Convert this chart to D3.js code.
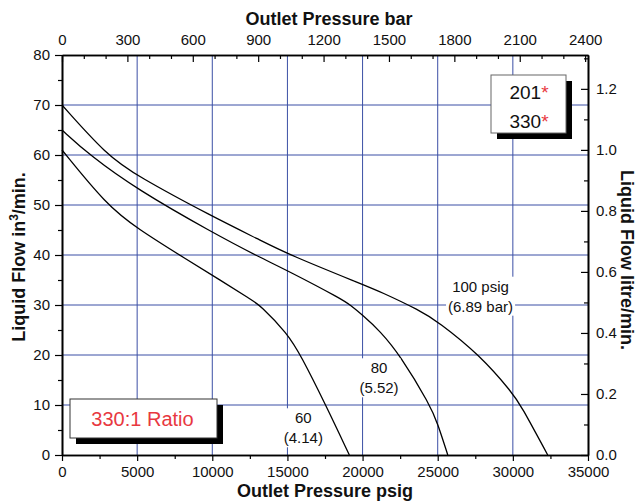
<!DOCTYPE html>
<html>
<head>
<meta charset="utf-8">
<script src="https://cdn.jsdelivr.net/npm/d3@7"></script>
<style>
html,body{margin:0;padding:0;background:#fff;}
svg{display:block;font-family:"Liberation Sans",Arial,sans-serif;}
</style>
</head>
<body>
<svg id="chart" width="636" height="501"></svg>
<script>
// ---- data (psig, in^3/min) ----
const psig100 = [0, 2970, 5000, 10000, 13175, 15000, 20000, 21160, 23820, 25000, 27800, 30000, 30520, 32320];
const flow100 = [70, 60, 55.8, 47.7, 43.0, 40.2, 34.1, 32.7, 28.9, 26.7, 20, 12.3, 10, 0];
const psig80 = [0, 1820, 5000, 10000, 13175, 15000, 18720, 19164, 20000, 21160, 22490, 24490, 25000, 25670];
const flow80 = [65, 60, 53.1, 44.5, 39.5, 36.9, 31, 30, 28.0, 24.8, 20, 10, 6.3, 0];
const psig60 = [0, 2970, 5000, 8297, 10513, 12620, 13175, 15000, 15880, 17550, 19120];
const flow60 = [61, 50, 45.3, 39.1, 35, 31, 30, 24.3, 20, 10, 0];

const psigTicks = [0, 5000, 10000, 15000, 20000, 25000, 30000, 35000];
const barTicks = [0, 300, 600, 900, 1200, 1500, 1800, 2100, 2400];
const flowTicks = [0, 10, 20, 30, 40, 50, 60, 70, 80];
const litreTicks = [0, 0.2, 0.4, 0.6, 0.8, 1.0, 1.2];
const gridPsig = [5000, 10000, 15000, 20000, 25000, 30000];
const gridFlow = [10, 20, 30, 40, 50, 60, 70];

const curveLabels = [
  {lines: ["100 psig", "(6.89 bar)"], psig: 27850, flow: 30.66},
  {lines: ["80", "(5.52)"], psig: 21094, flow: 14.34},
  {lines: ["60", "(4.14)"], psig: 16057, flow: 4.34}
];
const modelLines = ["201", "330"];
const ratioText = "330:1 Ratio";

// ---- layout ----
const L = 62, R = 588, T = 55, B = 455;
const PSI_PER_BAR = 14.5038;
const L_PER_IN3 = 0.016387064;

const svg = d3.select("#chart");
const x = d3.scaleLinear().domain([0, 35000]).range([L, R]);
const xBar = d3.scaleLinear().domain([0, 35000 / PSI_PER_BAR]).range([L, R]);
const y = d3.scaleLinear().domain([0, 80]).range([B, T]);
const yL = d3.scaleLinear().domain([0, 80 * L_PER_IN3]).range([B, T]);

const gridColor = "#3b4fa5";
const red = "#e8383f";

// grid
const grid = svg.append("g");
grid.selectAll("line.v").data(gridPsig).join("line")
  .attr("x1", d => x(d)).attr("x2", d => x(d)).attr("y1", T).attr("y2", B)
  .attr("stroke", gridColor).attr("stroke-width", 1);
grid.selectAll("line.h").data(gridFlow).join("line")
  .attr("x1", L).attr("x2", R).attr("y1", d => y(d)).attr("y2", d => y(d))
  .attr("stroke", gridColor).attr("stroke-width", 1);

// curves
const line = d3.line().x(d => x(d[0])).y(d => y(d[1])).curve(d3.curveBasis);
[[psig100, flow100], [psig80, flow80], [psig60, flow60]].forEach(([xs, ys]) => {
  svg.append("path")
    .datum(xs.map((v, i) => [v, ys[i]]))
    .attr("d", line)
    .attr("fill", "none").attr("stroke", "#000").attr("stroke-width", 1.3);
});

// curve labels with white background
curveLabels.forEach(lb => {
  const cx = x(lb.psig), cy = y(lb.flow);
  const g = svg.append("g");
  const t = g.append("text").attr("text-anchor", "middle").attr("font-size", 15).attr("fill", "#111");
  lb.lines.forEach((s, i) => {
    t.append("tspan").attr("x", cx).attr("y", cy - 10 + i * 20).text(s);
  });
  const bb = t.node().getBBox();
  g.insert("rect", "text")
    .attr("x", bb.x - 2).attr("y", bb.y - 1).attr("width", bb.width + 4).attr("height", bb.height + 2)
    .attr("fill", "#fff");
});

// axes
const fmt = d3.format("d");
function styleAxis(g) {
  g.selectAll("path.domain").attr("stroke", "#000").attr("stroke-width", 1.6);
  g.selectAll(".tick line").attr("stroke", "#000").attr("stroke-width", 1.2);
  g.selectAll(".tick text").attr("font-size", 15).attr("fill", "#111").attr("font-family", '"Liberation Sans",Arial,sans-serif');
}
const minorPsig = d3.range(2500, 35000, 5000);
const minorFlow = d3.range(5, 80, 10);
const minorBar = d3.range(0, 2401, 100).filter(d => d % 300 !== 0);
const minorLitre = [0.1, 0.3, 0.5, 0.7, 0.9, 1.1, 1.3].filter(d => d < 80 * L_PER_IN3);

// bottom
svg.append("g").attr("transform", `translate(0,${B})`)
  .call(d3.axisBottom(x).tickValues(minorPsig).tickSize(4).tickSizeOuter(0).tickFormat(""))
  .call(styleAxis);
svg.append("g").attr("transform", `translate(0,${B})`)
  .call(d3.axisBottom(x).tickValues(psigTicks).tickSize(6).tickSizeOuter(0).tickPadding(5).tickFormat(fmt))
  .call(styleAxis);
// left
svg.append("g").attr("transform", `translate(${L},0)`)
  .call(d3.axisLeft(y).tickValues(minorFlow).tickSize(4).tickSizeOuter(0).tickFormat(""))
  .call(styleAxis);
svg.append("g").attr("transform", `translate(${L},0)`)
  .call(d3.axisLeft(y).tickValues(flowTicks).tickSize(7).tickSizeOuter(0).tickPadding(5).tickFormat(fmt))
  .call(styleAxis);
// top
svg.append("g").attr("transform", `translate(0,${T})`)
  .call(d3.axisTop(xBar).tickValues(minorBar).tickSize(-4).tickSizeOuter(0).tickFormat(""))
  .call(styleAxis);
svg.append("g").attr("transform", `translate(0,${T})`)
  .call(d3.axisTop(xBar).tickValues(barTicks).tickSize(-7).tickSizeOuter(0).tickPadding(10).tickFormat(fmt))
  .call(styleAxis);
// right
svg.append("g").attr("transform", `translate(${R},0)`)
  .call(d3.axisRight(yL).tickValues(minorLitre).tickSize(-4).tickSizeOuter(0).tickFormat(""))
  .call(styleAxis);
svg.append("g").attr("transform", `translate(${R},0)`)
  .call(d3.axisRight(yL).tickValues(litreTicks).tickSize(-7).tickSizeOuter(0).tickPadding(8).tickFormat(d3.format(".1f")))
  .call(styleAxis);

// axis titles
svg.append("text").attr("x", 329).attr("y", 24.5).attr("text-anchor", "middle")
  .attr("font-size", 18).attr("font-weight", "bold").attr("fill", "#111").text("Outlet Pressure bar");
svg.append("text").attr("x", 325).attr("y", 496.5).attr("text-anchor", "middle")
  .attr("font-size", 18).attr("font-weight", "bold").attr("fill", "#111").text("Outlet Pressure psig");
const lt = svg.append("text").attr("transform", "translate(25,257) rotate(-90)").attr("text-anchor", "middle")
  .attr("font-size", 18).attr("font-weight", "bold").attr("fill", "#111");
lt.append("tspan").text("Liquid Flow in");
lt.append("tspan").attr("font-size", 12).attr("dy", -7).text("3");
lt.append("tspan").attr("dy", 7).text("/min.");
svg.append("text").attr("transform", "translate(621,260) rotate(90)").attr("text-anchor", "middle")
  .attr("font-size", 18).attr("font-weight", "bold").attr("fill", "#111").text("Liquid Flow litre/min.");

// model box (top right)
const mb = {x: 491, y: 75, w: 75, h: 58};
svg.append("rect").attr("x", mb.x + 6).attr("y", mb.y + 6).attr("width", mb.w).attr("height", mb.h).attr("fill", "#000");
svg.append("rect").attr("x", mb.x).attr("y", mb.y).attr("width", mb.w).attr("height", mb.h)
  .attr("fill", "#fff").attr("stroke", "#666").attr("stroke-width", 1);
modelLines.forEach((s, i) => {
  const t = svg.append("text").attr("x", mb.x + mb.w / 2 + 0.5).attr("y", 99 + i * 28.5)
    .attr("text-anchor", "middle").attr("font-size", 19).attr("fill", "#111");
  t.append("tspan").text(s);
  t.append("tspan").attr("fill", red).text("*");
});

// ratio box (bottom left)
const rb = {x: 70, y: 399, w: 147, h: 39};
svg.append("rect").attr("x", rb.x + 6).attr("y", rb.y + 6).attr("width", rb.w).attr("height", rb.h).attr("fill", "#000");
svg.append("rect").attr("x", rb.x).attr("y", rb.y).attr("width", rb.w).attr("height", rb.h)
  .attr("fill", "#fff").attr("stroke", "#333").attr("stroke-width", 1);
svg.append("text").attr("x", rb.x + rb.w / 2 - 1).attr("y", 426).attr("text-anchor", "middle")
  .attr("font-size", 20).attr("fill", red).text(ratioText);
</script>
</body>
</html>
